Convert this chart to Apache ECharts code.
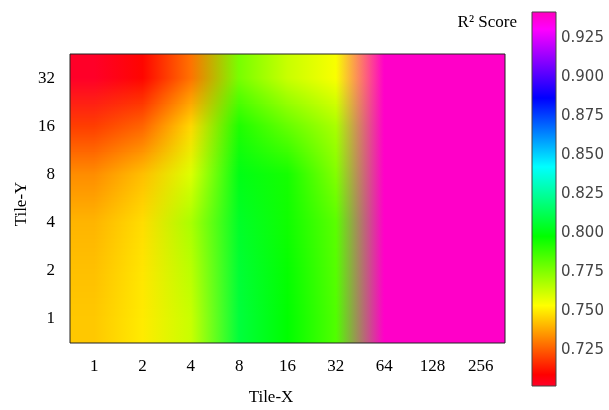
<!DOCTYPE html>
<html><head><meta charset="utf-8">
<script src="https://cdn.jsdelivr.net/npm/echarts@6/dist/echarts.min.js"></script>
<style>html,body{margin:0;padding:0;background:#fff}#c{width:609px;height:410px}</style>
</head><body><div id="c"></div>
<script>
// ---- data ----
const xLabels = ['1', '2', '4', '8', '16', '32', '64', '128', '256'];
const yLabels = ['1', '2', '4', '8', '16', '32'];
const rowY1  = [0.7439, 0.7499, 0.7630, 0.8084, 0.7978, 0.7839, 0.9401, 0.9401, 0.9401];
const rowY2  = [0.7425, 0.7490, 0.7655, 0.8070, 0.7970, 0.7830, 0.9401, 0.9401, 0.9401];
const rowY4  = [0.7405, 0.7475, 0.7683, 0.8048, 0.7952, 0.7822, 0.9401, 0.9401, 0.9401];
const rowY8  = [0.7336, 0.7422, 0.7595, 0.8014, 0.7942, 0.7753, 0.9401, 0.9401, 0.9401];
const rowY16 = [0.7198, 0.7265, 0.7465, 0.7926, 0.7803, 0.7684, 0.9401, 0.9401, 0.9401];
const rowY32 = [0.7020, 0.7100, 0.7290, 0.7770, 0.7630, 0.7545, 0.9401, 0.9401, 0.9401];
const colorTicks = [0.725, 0.75, 0.775, 0.8, 0.825, 0.85, 0.875, 0.9, 0.925];
const vMin = 0.7019, vMax = 0.9417;

const rows = [rowY1, rowY2, rowY4, rowY8, rowY16, rowY32];

// gist_rainbow colormap
const cmapStops = [
  [0.000, [255, 0, 41]], [0.030, [255, 0, 0]], [0.215, [255, 255, 0]],
  [0.400, [0, 255, 0]], [0.586, [0, 255, 255]], [0.770, [0, 0, 255]],
  [0.954, [255, 0, 255]], [1.000, [255, 0, 191]]
];
function cmap(v) {
  let t = (v - vMin) / (vMax - vMin);
  t = Math.max(0, Math.min(1, t));
  for (let k = 1; k < cmapStops.length; k++) {
    if (t <= cmapStops[k][0]) {
      const a = cmapStops[k - 1], b = cmapStops[k];
      const f = (t - a[0]) / (b[0] - a[0]);
      return a[1].map((c, i) => c + (b[1][i] - c) * f);
    }
  }
  return cmapStops[cmapStops.length - 1][1];
}
const rgbGrid = rows.map(r => r.map(cmap));
function mix(a, b, f) {
  return 'rgb(' + a.map((c, i) => Math.round(c + (b[i] - c) * f)).join(',') + ')';
}

function renderRow(params, api) {
  const j = api.value(1);
  const cs = params.coordSys;
  const bandH = api.size([0, 1])[1];
  const cy = api.coord([0, j])[1];
  const top = cy - bandH / 2, bot = cy + bandH / 2;
  const xs = xLabels.map((_, i) => api.coord([i, j])[0]);
  const children = [];
  const step = 1;
  for (let y = Math.floor(top); y < bot; y += step) {
    const ym = y + step / 2;
    let k = ym > cy ? j - 1 : j + 1;
    let f = Math.min(0.5, Math.abs(ym - cy) / bandH);
    if (k < 0 || k >= yLabels.length) { k = j; f = 0; }
    const stops = xs.map((x, i) => ({
      offset: Math.max(0, Math.min(1, (x - cs.x) / cs.width)),
      color: mix(rgbGrid[j][i], rgbGrid[k][i], f)
    }));
    children.push({
      type: 'rect',
      shape: { x: cs.x, y: y, width: cs.width, height: step + 1 },
      style: { fill: { type: 'linear', x: 0, y: 0, x2: 1, y2: 0, colorStops: stops } }
    });
  }
  return { type: 'group', children };
}

function renderBar(params, api) {
  const p0 = api.coord([0, vMax]);
  const p1 = api.coord([1, vMin]);
  return {
    type: 'rect',
    shape: { x: p0[0], y: p0[1], width: p1[0] - p0[0], height: p1[1] - p0[1] },
    style: {
      fill: {
        type: 'linear', x: 0, y: 1, x2: 0, y2: 0,
        colorStops: cmapStops.map(s => ({ offset: s[0], color: 'rgb(' + s[1].join(',') + ')' }))
      }
    }
  };
}

const serif = 'Liberation Serif';
const chart = echarts.init(document.getElementById('c'), null, { renderer: 'canvas' });
chart.setOption({
  animation: false,
  backgroundColor: '#fff',
  grid: [
    { left: 70, top: 54, width: 435, height: 289, show: false },
    { left: 532, top: 12, width: 24, height: 374, show: false }
  ],
  xAxis: [
    { type: 'category', data: xLabels, gridIndex: 0,
      axisLine: { show: false }, axisTick: { show: false }, splitLine: { show: false },
      axisLabel: { fontFamily: serif, fontSize: 17, color: '#000', margin: 15 } },
    { type: 'value', gridIndex: 1, min: 0, max: 1, show: false }
  ],
  yAxis: [
    { type: 'category', data: yLabels, gridIndex: 0,
      axisLine: { show: false }, axisTick: { show: false }, splitLine: { show: false },
      axisLabel: { fontFamily: serif, fontSize: 17, color: '#000', margin: 15 } },
    { type: 'value', gridIndex: 1, min: vMin, max: vMax, position: 'right',
      axisLine: { show: false }, splitLine: { show: false },
      axisTick: { show: true, customValues: colorTicks, length: 3, lineStyle: { color: '#444' } },
      axisLabel: { customValues: colorTicks, formatter: v => v.toFixed(3),
        fontFamily: 'DejaVu Sans', fontSize: 15, color: '#444', margin: 5 } }
  ],
  series: [
    { type: 'custom', xAxisIndex: 0, yAxisIndex: 0, clip: true,
      encode: { x: 0, y: 1 },
      data: yLabels.map((_, j) => [0, j]),
      renderItem: renderRow },
    { type: 'custom', xAxisIndex: 1, yAxisIndex: 1, clip: true,
      data: [[0, vMin]],
      renderItem: renderBar }
  ],
  graphic: [
    { type: 'rect', z: 100, shape: { x: 70, y: 54, width: 435, height: 289 },
      style: { fill: null, stroke: '#222', lineWidth: 1 } },
    { type: 'rect', z: 100, shape: { x: 532, y: 12, width: 24, height: 374 },
      style: { fill: null, stroke: '#444', lineWidth: 1 } },
    { type: 'text', z: 100, x: 517, y: 23,
      style: { text: 'R² Score', font: '17px "Liberation Serif"', fill: '#000', align: 'right', verticalAlign: 'middle' } },
    { type: 'text', z: 100, x: 271, y: 398,
      style: { text: 'Tile-X', font: '17px "Liberation Serif"', fill: '#000', align: 'center', verticalAlign: 'middle' } },
    { type: 'text', z: 100, x: 22, y: 204, rotation: Math.PI / 2,
      style: { text: 'Tile-Y', font: '17px "Liberation Serif"', fill: '#000', align: 'center', verticalAlign: 'middle' } }
  ]
});
</script>
</body></html>
